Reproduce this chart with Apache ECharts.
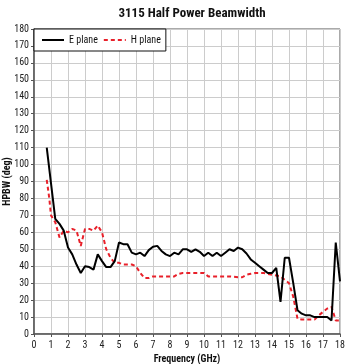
<!DOCTYPE html>
<html>
<head>
<meta charset="utf-8">
<script src="https://cdn.jsdelivr.net/npm/echarts@6/dist/echarts.min.js"></script>
<style>
  html, body { margin: 0; padding: 0; background: #fff; }
  #chart { width: 350px; height: 364px; }
</style>
</head>
<body>
<div id="chart"></div>
<script>
// Beamwidth (deg) versus frequency (GHz) for the two principal planes
const ePlaneFreq = [0.75, 1.25, 1.5, 1.75, 2.0, 2.25, 2.5, 2.75, 3.0, 3.25, 3.5, 3.75, 4.0, 4.25, 4.5, 4.75,
  5.0, 5.25, 5.5, 5.75, 6.0, 6.25, 6.5, 6.75, 7.0, 7.25, 7.5, 7.75, 8.0, 8.25, 8.5, 8.75,
  9.0, 9.25, 9.5, 9.75, 10.0, 10.25, 10.5, 10.75, 11.0, 11.25, 11.5, 11.75, 12.0, 12.25, 12.5, 12.75,
  13.0, 13.25, 13.5, 13.75, 14.0, 14.25, 14.5, 14.75, 15.0, 15.25, 15.5, 15.75, 16.0, 16.25, 16.5, 16.75,
  17.0, 17.25, 17.5, 17.75, 18.0];
const ePlaneDeg = [110, 68, 65, 61, 51, 47, 41, 36, 40, 39.5, 38, 47, 43, 39.5, 39.5, 43,
  54, 53, 53, 48, 47, 48, 46, 49.5, 51.5, 52, 49, 47, 46, 48, 47, 50,
  50, 48.5, 50, 48.5, 46, 48, 46, 48, 46, 48, 50, 49, 51, 50, 47.5, 44,
  42, 40, 38, 36, 36, 39, 19, 45, 45, 30, 14, 12, 11, 11, 10, 10,
  10, 10, 8, 54, 31];

const hPlaneFreq = [0.75, 0.9, 1.0, 1.25, 1.5, 1.75, 2.0, 2.25, 2.5, 2.75, 3.0, 3.25, 3.5, 3.75, 4.0, 4.25,
  4.5, 4.75, 5.0, 5.25, 5.5, 5.75, 6.0, 6.25, 6.5, 6.75, 7.0, 7.5, 8.0, 8.25, 8.5, 8.75,
  9.0, 9.5, 9.75, 10.0, 10.25, 10.5, 11.0, 11.5, 12.0, 12.25, 12.5, 12.75, 13.0, 13.5, 14.0, 14.25,
  14.5, 14.75, 15.0, 15.25, 15.5, 15.75, 16.0, 16.25, 16.5, 16.75, 17.0, 17.25, 17.5, 17.75, 18.0];
const hPlaneDeg = [91, 80, 70, 66, 57, 61, 60, 62, 61, 52, 62, 62, 61, 64, 60, 50,
  45, 42, 42, 41, 41, 41, 40, 36, 33, 33, 34, 34, 34, 34, 35.5, 36,
  36, 36, 36, 36, 34, 34, 34, 34, 33.5, 33.5, 35, 35.5, 36, 36, 35, 34.5,
  34, 32, 30, 22, 9, 8.5, 8.5, 8.5, 8.5, 11, 13, 15, 16, 8, 8];

const freqTicks = { min: 0, max: 18, step: 1 };
const degTicks = { min: 0, max: 180, step: 10 };

const FONT = '"Roboto Condensed", "Liberation Sans", Arial, sans-serif';

function pairs(xs, ys) {
  return xs.map((x, i) => [x, ys[i]]);
}

const chart = echarts.init(document.getElementById('chart'), null, { renderer: 'canvas' });

chart.setOption({
  animation: false,
  backgroundColor: '#ffffff',
  textStyle: { fontFamily: FONT },
  title: {
    text: '3115 Half Power Beamwidth',
    left: 187,
    textAlign: 'center',
    top: 2,
    textStyle: { fontFamily: FONT, fontSize: 13, fontWeight: 'bold', color: '#111' }
  },
  legend: {
    left: 34,
    top: 29,
    orient: 'horizontal',
    backgroundColor: '#ffffff',
    borderColor: '#111',
    borderWidth: 1,
    borderRadius: 0,
    padding: [6, 5, 6, 7],
    itemGap: 5,
    itemWidth: 22,
    itemHeight: 10,
    itemStyle: { opacity: 0 },
    textStyle: { fontFamily: FONT, fontSize: 10, color: '#111' },
    data: ['E plane', 'H plane']
  },
  grid: {
    left: 34,
    right: 10,
    top: 29,
    bottom: 30,
    show: true,
    borderColor: '#555',
    borderWidth: 1,
    containLabel: false,
    outerBoundsMode: 'none'
  },
  xAxis: {
    type: 'value',
    min: freqTicks.min,
    max: freqTicks.max,
    interval: freqTicks.step,
    name: 'Frequency (GHz)',
    nameLocation: 'middle',
    nameGap: 20,
    nameMoveOverlap: false,
    nameTextStyle: { fontFamily: FONT, fontSize: 10, fontWeight: 'bold', color: '#111' },
    axisLine: { show: true, lineStyle: { color: '#555', width: 1.5 } },
    axisTick: { show: true, length: 3, lineStyle: { color: '#555' } },
    axisLabel: { fontFamily: FONT, fontSize: 10, color: '#222', margin: 6 },
    splitLine: { show: true, lineStyle: { color: '#cccccc', width: 1 } }
  },
  yAxis: {
    type: 'value',
    min: degTicks.min,
    max: degTicks.max,
    interval: degTicks.step,
    name: 'HPBW (deg)',
    nameLocation: 'middle',
    nameGap: 22,
    nameRotate: 90,
    nameMoveOverlap: false,
    nameTextStyle: { fontFamily: FONT, fontSize: 10, fontWeight: 'bold', color: '#111' },
    axisLine: { show: true, lineStyle: { color: '#555', width: 1.5 } },
    axisTick: { show: true, length: 3, lineStyle: { color: '#555' } },
    axisLabel: { fontFamily: FONT, fontSize: 10, color: '#222', margin: 5 },
    splitLine: { show: true, lineStyle: { color: '#cccccc', width: 1 } }
  },
  series: [
    {
      name: 'E plane',
      type: 'line',
      data: pairs(ePlaneFreq, ePlaneDeg),
      symbol: 'none',
      z: 3,
      lineStyle: { color: '#000000', width: 2 },
      itemStyle: { color: '#000000' }
    },
    {
      name: 'H plane',
      type: 'line',
      data: pairs(hPlaneFreq, hPlaneDeg),
      symbol: 'none',
      z: 2,
      lineStyle: { color: '#e8202a', width: 2, type: [4, 3] },
      itemStyle: { color: '#e8202a' }
    }
  ]
});
</script>
</body>
</html>
